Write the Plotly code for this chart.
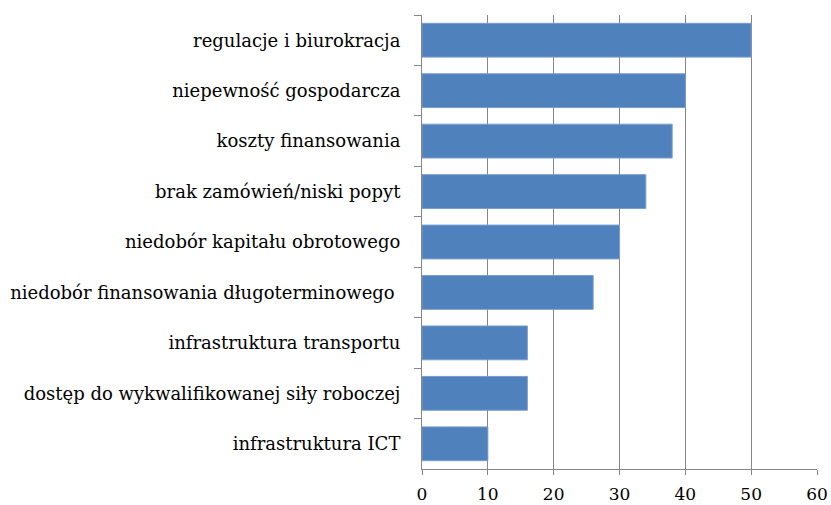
import plotly.graph_objects as go

categories = [
    "regulacje i biurokracja",
    "niepewność gospodarcza",
    "koszty finansowania",
    "brak zamówień/niski popyt",
    "niedobór kapitału obrotowego",
    "niedobór finansowania długoterminowego ",
    "infrastruktura transportu",
    "dostęp do wykwalifikowanej siły roboczej",
    "infrastruktura ICT",
]
values = [50, 40, 38, 34, 30, 26, 16, 16, 10]
x_ticks = [0, 10, 20, 30, 40, 50, 60]

fig = go.Figure(go.Bar(
    x=values,
    y=categories,
    orientation="h",
    marker=dict(color="#4F81BD", line=dict(color="#7A9CCB", width=1)),
))

fig.update_layout(
    width=831, height=505,
    margin=dict(l=422, r=14, t=15, b=36, autoexpand=False),
    plot_bgcolor="white", paper_bgcolor="white",
    font=dict(family="DejaVu Serif", size=18, color="#000000"),
    bargap=0.33,
    showlegend=False,
)
fig.update_xaxes(
    range=[0, 60], tickvals=x_ticks,
    showgrid=True, gridcolor="#868686", gridwidth=1,
    showline=True, linecolor="#868686", linewidth=1,
    ticks="outside", ticklen=5, tickcolor="#868686",
    zeroline=False, automargin=False,
    tickfont=dict(size=17),
    ticklabelstandoff=5,
)
fig.update_yaxes(
    autorange="reversed",
    categoryorder="array", categoryarray=categories,
    tickson="boundaries",
    showgrid=False, automargin=False,
    showline=True, linecolor="#868686", linewidth=1,
    ticks="outside", ticklen=7, tickcolor="#868686",
    ticklabelstandoff=17,
)

fig.write_html(
    "out.html",
    config={"displayModeBar": False},
    post_script="document.body.style.margin='0';document.body.style.overflow='hidden';",
)
